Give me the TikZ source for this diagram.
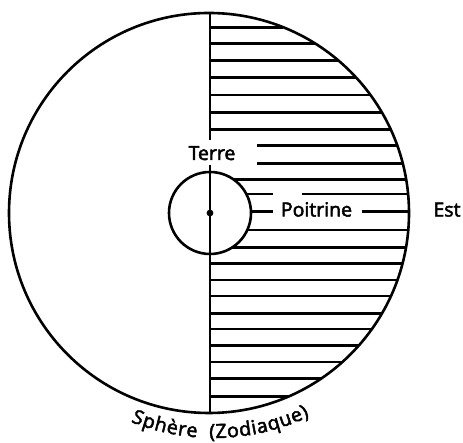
\documentclass[tikz,border=0pt]{standalone}
\usepackage{fontspec}
\setmainfont{Open Sans}
\newfontfamily\labfont{Open Sans}[FakeBold=2.5]
\usetikzlibrary{decorations.text}
\begin{document}
\begin{tikzpicture}[x=1pt,y=1pt,
  ln/.style={line width=2.6pt},
  lab/.style={font=\labfont\fontsize{19.5}{22}\selectfont, inner sep=0pt}]
\useasboundingbox (0,0) rectangle (463,443);
% centres (pixel y converted: Y = 443 - y)
\coordinate (C) at (209,230);
\coordinate (c) at (210,230);
\coordinate (T) at (214,227);
% big circle
\draw[ln] (C) circle[radius=200];
% small circle
\draw[ln] (c) circle[radius=41];
\fill (c) circle[radius=3.4];
% vertical axis, broken for "Terre"
\coordinate (vtop) at (210,{443-14});
\coordinate (vt1) at (210,{443-140});
\coordinate (vt2) at (210,{443-165});
\coordinate (vbot) at (210,{443-412});
\draw[ln] (vtop) -- (vt1);
\draw[ln] (vt2) -- (vbot);
% hatching lines from the axis
\foreach \y in {27.3,43.3,60.7,77.3,95,112.7,129.3,263.3,280,296,313.3,329,345.5,362,378.5,396.7}{
  \draw[ln] (210,{443-\y}) -- ({209+200*sqrt(1-((\y-213)/200)^2)},{443-\y});
}
% lines starting at x=257
\foreach \y in {145.7,163.3}{
  \draw[ln] (257,{443-\y}) -- ({209+200*sqrt(1-((\y-213)/200)^2)},{443-\y});
}
% lines starting at the small circle
\foreach \y in {179.3,230,247.3}{
  \draw[ln] ({210+sqrt(41*41-(\y-213)*(\y-213))},{443-\y}) -- ({209+200*sqrt(1-((\y-213)/200)^2)},{443-\y});
}
% broken line at y=194
\draw[ln] ({210+sqrt(41*41-(194-213)*(194-213))},{443-194}) -- (273,{443-194});
\draw[ln] (302,{443-194}) -- ({209+200*sqrt(1-((194-213)/200)^2)},{443-194});
% Poitrine line
\node[lab, anchor=base] (poitrine) at (316.5,{443-216.5}) {Poitrine};
\draw[ln] ({210+41},{443-211.7}) -- (273,{443-211.7});
\draw[ln] (362,{443-211.7}) -- (409,{443-211.7});
% labels
\node[lab, anchor=base] (terre) at (212,{443-160}) {Terre};
\node[lab, anchor=base] (est) at (447,{443-216.5}) {Est};
% curved label
\path[decorate, decoration={text along path, text align={fit to path},
  text={|\labfont\fontsize{19.5}{22}\selectfont|Sphère {\ }(Zodiaque)}}]
  ([shift={(248:222)}]T) arc[start angle=248, end angle=295.5, radius=222];
\end{tikzpicture}
\end{document}
